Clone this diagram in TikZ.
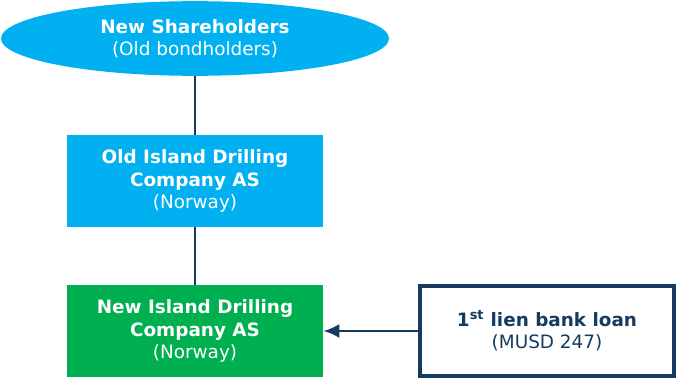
\documentclass[tikz,border=0pt]{standalone}
\usepackage{fontspec}
\setmainfont{DejaVu Sans}
\usetikzlibrary{shapes.geometric,arrows.meta}

\definecolor{skyfill}{RGB}{0,176,240}
\definecolor{greenfill}{RGB}{0,176,80}
\definecolor{navyline}{RGB}{22,59,96}

\begin{document}
\begin{tikzpicture}[x=0.75pt,y=0.75pt,yscale=-1,xscale=1,
    boxtext/.style={align=center,text=white,font=\fontsize{13.8}{16.8}\selectfont},
    linkline/.style={color=navyline,line width=1.6pt}]
    \useasboundingbox (0,0) rectangle (677,378);

    %Shape: Ellipse [id:holders]
    \node (holders) [ellipse,fill=skyfill,inner sep=0pt,minimum width=291pt,minimum height=56pt,boxtext] at (195,38.5)
        {\textbf{New Shareholders}\\(Old bondholders)};
    %Shape: Rectangle [id:oldco]
    \node (oldco) [rectangle,fill=skyfill,inner sep=0pt,minimum width=192pt,minimum height=69pt,boxtext] at (195,181)
        {\textbf{Old Island Drilling}\\\textbf{Company AS}\\(Norway)};
    %Shape: Rectangle [id:newco]
    \node (newco) [rectangle,fill=greenfill,inner sep=0pt,minimum width=192pt,minimum height=69pt,boxtext] at (195,331)
        {\textbf{New Island Drilling}\\\textbf{Company AS}\\(Norway)};
    %Shape: Rectangle [id:bankloan]
    \node (bankloan) [rectangle,draw=navyline,line width=3pt,fill=white,inner sep=0pt,minimum width=190.5pt,minimum height=67.5pt,boxtext,text=navyline] at (547,331)
        {\textbf{1\textsuperscript{st} lien bank loan}\\(MUSD 247)};

    %Straight Lines
    \draw [linkline] (holders) -- (oldco) ;
    \draw [linkline] (oldco) -- (newco) ;
    \draw [linkline,line width=1.9pt,-{Latex[length=12pt,width=10.5pt]}] (bankloan) -- (newco) ;

\end{tikzpicture}
\end{document}
